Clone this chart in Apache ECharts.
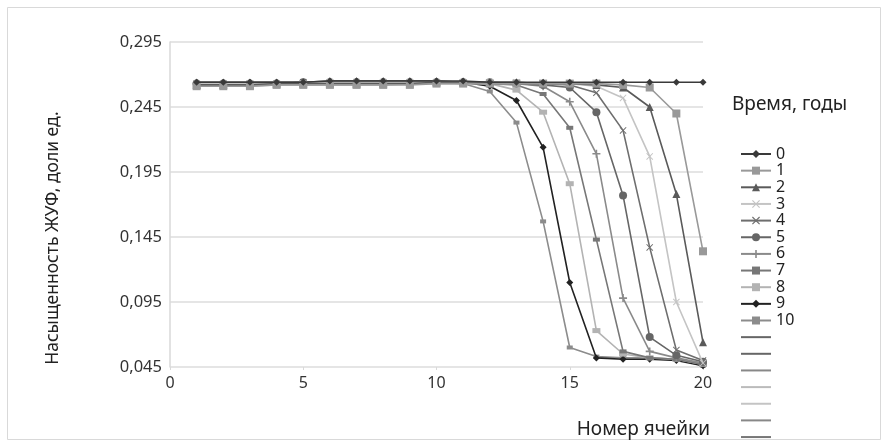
<!DOCTYPE html>
<html><head><meta charset="utf-8">
<script src="https://cdn.jsdelivr.net/npm/echarts@6/dist/echarts.min.js"></script>
<style>html,body{margin:0;padding:0;background:#fff}#c{width:887px;height:446px}</style>
</head><body><div id="c"></div>
<script>
const cells = [1,2,3,4,5,6,7,8,9,10,11,12,13,14,15,16,17,18,19,20];
const yTicks = [0.045,0.095,0.145,0.195,0.245,0.295];
const seriesNames = ['0','1','2','3','4','5','6','7','8','9','10'];
const extraNames = ['11','12','13','14','15','16','17'];
const s0  = [0.264,0.264,0.264,0.264,0.264,0.265,0.265,0.265,0.265,0.265,0.265,0.264,0.264,0.264,0.264,0.264,0.264,0.264,0.264,0.264];
const s1  = [0.261,0.261,0.261,0.262,0.262,0.262,0.262,0.262,0.262,0.263,0.263,0.263,0.263,0.263,0.263,0.263,0.262,0.260,0.240,0.134];
const s2  = [0.262,0.262,0.262,0.263,0.263,0.263,0.263,0.263,0.263,0.264,0.264,0.264,0.264,0.263,0.263,0.262,0.260,0.245,0.178,0.064];
const s3  = [0.263,0.263,0.263,0.263,0.263,0.264,0.264,0.264,0.264,0.264,0.264,0.264,0.264,0.263,0.263,0.261,0.252,0.207,0.095,0.048];
const s4  = [0.263,0.263,0.263,0.263,0.264,0.264,0.264,0.264,0.264,0.264,0.264,0.264,0.263,0.263,0.262,0.256,0.227,0.137,0.058,0.050];
const s5  = [0.263,0.263,0.263,0.263,0.264,0.264,0.264,0.264,0.264,0.264,0.264,0.264,0.263,0.262,0.260,0.241,0.177,0.068,0.054,0.049];
const s6  = [0.263,0.263,0.263,0.263,0.264,0.264,0.264,0.264,0.264,0.264,0.264,0.263,0.263,0.261,0.249,0.209,0.098,0.057,0.052,0.048];
const s7  = [0.262,0.262,0.262,0.263,0.263,0.263,0.264,0.264,0.264,0.264,0.264,0.263,0.262,0.255,0.229,0.143,0.057,0.052,0.051,0.047];
const s8  = [0.261,0.261,0.261,0.262,0.262,0.262,0.262,0.262,0.263,0.263,0.263,0.263,0.258,0.241,0.186,0.073,0.055,0.052,0.051,0.047];
const s9  = [0.264,0.264,0.264,0.264,0.264,0.265,0.265,0.265,0.265,0.265,0.264,0.261,0.250,0.214,0.110,0.052,0.051,0.051,0.050,0.046];
const s10 = [0.263,0.263,0.263,0.263,0.263,0.264,0.264,0.264,0.264,0.264,0.263,0.257,0.233,0.157,0.060,0.053,0.052,0.052,0.051,0.046];
const allValues = [s0,s1,s2,s3,s4,s5,s6,s7,s8,s9,s10];

const X = 'path://M0,1L1,0L5,4L9,0L10,1L6,5L10,9L9,10L5,6L1,10L0,9L4,5Z';
const PLUS = 'path://M4,0H6V4H10V6H6V10H4V6H0V4H4Z';
const styles = [
  {c:'#3a3a3a', sym:'diamond', sz:7},
  {c:'#999999', sym:'rect', sz:8},
  {c:'#5a5a5a', sym:'triangle', sz:8},
  {c:'#c4c4c4', sym:X, sz:7},
  {c:'#6e6e6e', sym:X, sz:7},
  {c:'#666666', sym:'circle', sz:8},
  {c:'#8a8a8a', sym:PLUS, sz:8},
  {c:'#777777', sym:'rect', sz:[7,4]},
  {c:'#b3b3b3', sym:'rect', sz:[8,5]},
  {c:'#222222', sym:'diamond', sz:7},
  {c:'#8c8c8c', sym:'rect', sz:[6,4]}
];
const extraColors = ['#666666','#666666','#888888','#bbbbbb','#c4c4c4','#888888','#777777'];

const series = allValues.map((vals,i)=>({
  name: seriesNames[i], type:'line',
  data: cells.map((x,j)=>[x, vals[j]]),
  symbol: styles[i].sym, symbolSize: styles[i].sz, showSymbol:true,
  lineStyle:{color:styles[i].c, width:1.6},
  itemStyle:{color:styles[i].c},
  z: 20 - i
}));
extraNames.forEach((n,i)=>series.push({
  name:n, type:'line', data:[], symbol:'none',
  lineStyle:{color:extraColors[i], width:2}, itemStyle:{color:'rgba(0,0,0,0)'}
}));

const FONT = 'Noto Sans';
const chart = echarts.init(document.getElementById('c'));
chart.setOption({
  animation:false,
  backgroundColor:'#fff',
  textStyle:{fontFamily:FONT},
  grid:{left:170, right:184, top:42, bottom:79},
  xAxis:{type:'value', min:0, max:20, interval:5,
    axisLine:{show:false}, axisTick:{show:true, length:3, lineStyle:{color:'#d9d9d9'}},
    splitLine:{show:false},
    axisLabel:{color:'#333', fontSize:16, margin:8, fontFamily:FONT}},
  yAxis:{type:'value', min:yTicks[0], max:yTicks[yTicks.length-1], interval:0.05,
    axisLine:{show:true, lineStyle:{color:'#d9d9d9', width:1.5}}, axisTick:{show:false},
    splitLine:{show:true, lineStyle:{color:'#dcdcdc', width:1.5}},
    axisLabel:{color:'#333', fontSize:16.5, margin:8, fontFamily:FONT,
      formatter:v=>v.toFixed(3).replace('.',',')}},
  legend:{orient:'vertical', left:740, top:146, padding:0,
    itemWidth:30, itemHeight:10, itemGap:0.65,
    data:seriesNames.concat(extraNames),
    formatter:n=> (+n > 10 ? ' ' : n),
    textStyle:{color:'#222', fontSize:16, lineHeight:12, padding:[0,0,0,0], fontFamily:FONT}},
  graphic:[
    {type:'rect', shape:{x:7.5, y:7.5, width:873, height:432}, style:{fill:'none', stroke:'#d9d9d9', lineWidth:1}, z:-10},
    {type:'text', x:732, y:95, style:{text:'Время, годы', fontSize:19, fill:'#222', fontFamily:FONT}},
    {type:'text', x:710, y:430, style:{text:'Номер ячейки', fontSize:19, fill:'#222', fontFamily:FONT, align:'right', verticalAlign:'middle'}},
    {type:'text', x:44, y:238, rotation:Math.PI/2, style:{text:'Насыщенность ЖУФ, доли ед.', fontSize:17.5, fill:'#222', fontFamily:FONT, align:'center', verticalAlign:'top'}}
  ],
  series: series
});
</script></body></html>
